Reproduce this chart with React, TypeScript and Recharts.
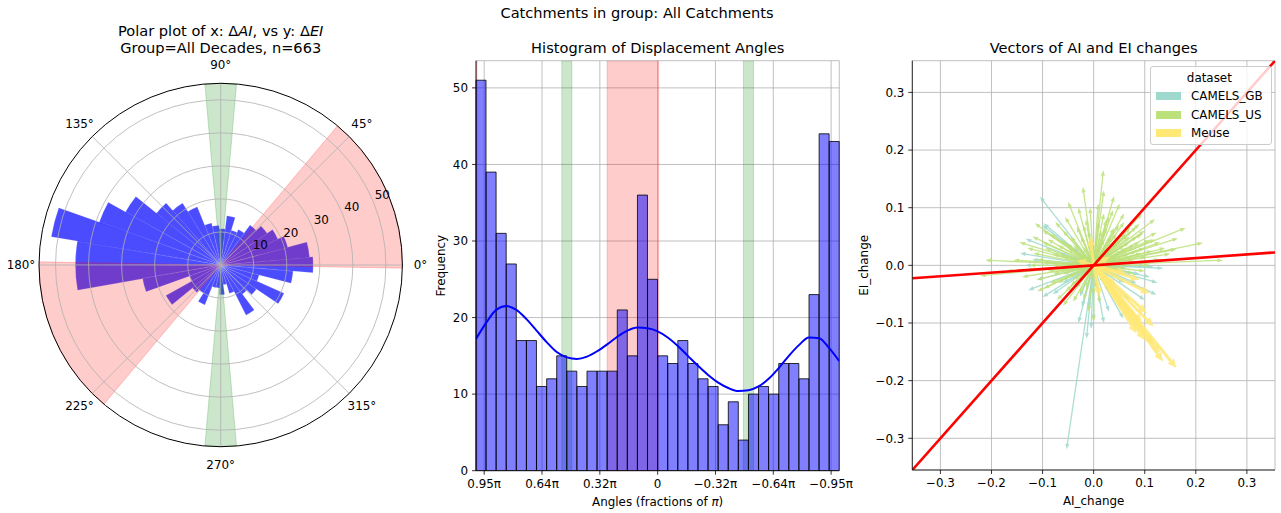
import React from 'react';
import {
  RadialBarChart,
  RadialBar,
  PolarAngleAxis,
  PolarRadiusAxis,
  PolarGrid,
  PieChart,
  Pie,
  Cell,
  ComposedChart,
  Bar,
  Line,
  Scatter,
  XAxis,
  YAxis,
  CartesianGrid,
  ReferenceArea,
  ReferenceLine,
  Legend,
} from 'recharts';

const FONT = '"DejaVu Sans", Verdana, sans-serif';
const PI = Math.PI;
const deg = (d: number) => (d * PI) / 180;

// ---- polar panel: 37 equal bins, counter-clockwise from 180 deg ----
const polarCounts = [
  44, 44, 24, 10, 19, 11, 10, 13, 7, 7, 9, 6, 9, 17, 11, 13, 21, 12, 22, 28, 27, 21, 19, 17, 15,
  12, 11, 15, 11, 12, 13, 19, 22, 25, 33, 39, 52,
];
const polarAngleTicks = [0, 45, 90, 135, 180, 225, 270, 315];
const polarRadiusTicks = [10, 20, 30, 40, 50];
const R_MAX = 54.6;

// shaded sectors, degrees
const pinkBands = [
  [-1, 50],
  [179, 230],
];
const greenBands = [
  [85, 95],
  [-95, -85],
];

// ---- histogram panel: 36 bins, left (+pi) to right (-pi) ----
const histCounts = [
  51, 39, 31, 27, 17, 17, 11, 12, 15, 13, 11, 13, 13, 13, 21, 15, 36, 25, 15, 14, 17, 14, 12, 11,
  6, 9, 4, 10, 11, 10, 14, 14, 12, 23, 44, 43,
];
// kde read at the 37 bin edges, same order
const kdeValues = [
  17.2, 19.3, 21.0, 21.5, 21.0, 19.8, 18.3, 16.8, 15.5, 14.8, 14.6, 14.9, 15.6, 16.5, 17.5, 18.3,
  18.7, 18.6, 18.2, 17.4, 16.3, 15.0, 13.7, 12.5, 11.5, 10.8, 10.4, 10.5, 11.0, 12.0, 13.4, 15.0,
  16.4, 17.4, 17.3, 16.0, 14.3,
];
const angleTicks = [3, 2, 1, 0, -1, -2, -3];
const freqTicks = [0, 10, 20, 30, 40, 50];

// ---- vector panel: arrow tips (AI_change, EI_change) from the origin ----
const gbVectors = [
  [-0.053, -0.319], [-0.105, 0.119], [-0.133, 0.046], [-0.128, -0.043], [-0.144, 0.021],
  [-0.134, 0.0], [-0.027, -0.054], [-0.014, -0.127], [-0.023, -0.072], [0.058, -0.092],
  [0.123, -0.051], [0.136, -0.005], [0.1, -0.06], [0.0, -0.095], [-0.101, 0.07],
  [0.084, -0.031], [-0.066, 0.021], [-0.111, -0.025], [0.117, -0.002], [-0.098, 0.073],
  [-0.005, -0.11], [0.03, -0.08], [-0.06, -0.03], [0.1, 0.0], [0.09, -0.015],
  [-0.03, -0.1], [0.045, -0.05], [-0.08, -0.05], [-0.1, -0.055], [0.06, -0.03],
  [0.11, -0.02], [0.125, -0.03], [-0.12, 0.01], [-0.04, 0.03], [0.02, -0.1],
  [-0.01, -0.075], [0.07, -0.06],
];
const usVectors = [
  [0.019, 0.165], [-0.021, 0.136], [0.009, 0.107], [0.051, 0.107], [-0.007, 0.1],
  [0.038, 0.096], [0.03, 0.085], [0.06, 0.075], [0.072, 0.066], [0.084, 0.067],
  [0.064, 0.055], [0.1, 0.06], [0.123, 0.057], [0.11, 0.044], [0.165, 0.047],
  [0.214, 0.039], [0.162, 0.028], [0.253, 0.009], [0.094, 0.021], [0.104, 0.015],
  [0.13, 0.01], [0.08, 0.035], [0.045, 0.04], [0.025, 0.079], [-0.015, 0.08],
  [-0.033, 0.067], [-0.056, 0.084], [-0.075, 0.075], [-0.1, 0.061], [-0.115, 0.073],
  [-0.09, 0.045], [-0.053, 0.038], [-0.02, 0.032], [-0.118, 0.021], [-0.157, 0.009],
  [-0.212, 0.009], [-0.222, -0.018], [-0.131, -0.008], [-0.079, -0.014], [-0.066, -0.008],
  [-0.1, 0.005], [-0.085, -0.031], [-0.111, -0.025], [-0.098, -0.04], [-0.072, -0.06],
  [-0.04, -0.063], [-0.04, -0.025], [-0.027, -0.049], [0.0, -0.098], [0.012, -0.066],
  [-0.015, -0.04], [0.077, -0.014], [0.05, -0.008], [0.03, 0.02], [0.07, 0.05],
  [0.09, 0.072], [-0.06, 0.06], [-0.03, 0.1], [0.015, 0.06], [0.055, 0.025],
  [-0.145, 0.04], [-0.17, -0.01], [0.14, 0.03], [0.18, 0.065], [0.12, 0.08],
  [0.02, -0.03], [-0.055, -0.045], [-0.045, 0.05], [0.04, 0.065], [0.06, 0.09],
  [-0.08, 0.02], [-0.13, 0.03], [0.11, 0.0], [0.085, 0.05], [0.07, 0.02],
  [0.09, 0.04], [0.06, 0.035], [0.1, 0.03], [0.115, 0.025], [0.12, 0.045],
  [0.075, 0.06], [0.05, 0.07], [0.035, 0.05], [0.02, 0.09], [-0.01, 0.06],
  [-0.025, 0.05], [-0.04, 0.035], [-0.065, 0.045], [-0.085, 0.055], [-0.095, 0.03],
  [-0.06, 0.015], [-0.11, 0.01], [-0.125, 0.0], [-0.09, -0.01], [-0.07, -0.03],
  [-0.05, -0.02], [-0.035, -0.04], [-0.02, -0.06], [-0.01, -0.08], [0.005, -0.04],
  [0.03, -0.045], [0.045, -0.02], [0.065, -0.005], [0.1, -0.01], [0.13, 0.04],
  [0.15, 0.02], [0.095, 0.09], [0.04, 0.12], [-0.05, 0.11], [-0.12, 0.05],
  [-0.14, -0.02], [-0.11, -0.045], [-0.06, -0.07], [0.02, 0.13], [0.03, 0.03],
  [0.05, 0.045], [0.065, 0.03], [0.04, 0.01], [0.02, 0.045], [0.01, 0.03],
  [-0.01, 0.02], [-0.03, 0.02], [-0.05, 0.03], [-0.045, 0.005], [-0.03, -0.01],
  [-0.02, -0.02], [0.015, -0.015], [0.035, -0.01], [0.055, 0.01], [0.08, 0.01],
  [0.07, 0.04], [0.045, 0.055], [0.025, 0.065], [-0.005, 0.045], [-0.02, 0.07],
  [-0.07, 0.035], [-0.08, 0.0], [-0.06, -0.015], [-0.045, -0.035], [0.0, -0.05],
  [0.01, 0.075], [0.085, 0.025], [0.095, 0.055], [-0.1, 0.04],
];
const meuseVectors = [
  [0.162, -0.178], [0.136, -0.167], [0.117, -0.138], [0.13, -0.152], [0.117, -0.106],
  [0.104, -0.083], [0.11, -0.049], [0.09, -0.025], [0.064, -0.014], [0.058, -0.066],
  [0.084, -0.118], [0.045, -0.037], [0.012, -0.054], [-0.007, 0.05], [-0.033, 0.009],
  [0.032, 0.015], [0.02, -0.02], [0.1, -0.13], [0.075, -0.09], [0.095, -0.1],
];
const changeTicks = [-0.3, -0.2, -0.1, 0, 0.1, 0.2, 0.3];
const CHANGE_LIM = 0.355;
const redSlopes = [1, 0.063];

const GB = '#9fd8cc';
const US = '#bce07a';
const MEUSE = '#ffe874';

const polarBins = polarCounts.map((count, i) => ({ bin: i, count }));
const polarAngleData = polarAngleTicks.map((angle) => ({ angle, zero: 0 }));
const histBins = histCounts.map((count, i) => ({ bin: i, count }));
const kdePoints = kdeValues.map((kde, i) => ({ angle: PI - (i * 2 * PI) / 36, kde }));

const bandList = [
  ...pinkBands.map(([a, b]) => ({ from: a, to: b, color: '#ff0000' })),
  ...greenBands.map(([a, b]) => ({ from: a, to: b, color: '#008000' })),
]
  .map((b) => (b.from < pinkBands[0][0] ? { ...b, from: b.from + 360, to: b.to + 360 } : b))
  .sort((p, q) => p.from - q.from);
const bandStart = bandList[0].from;
const bandSegments: { span: number; color: string }[] = [];
let cursor = bandStart;
for (const b of bandList) {
  if (b.from > cursor) bandSegments.push({ span: b.from - cursor, color: 'none' });
  bandSegments.push({ span: b.to - b.from, color: b.color });
  cursor = b.to;
}
if (cursor < bandStart + 360) bandSegments.push({ span: bandStart + 360 - cursor, color: 'none' });

const P_CX = 220.7;
const P_CY = 265;
const P_R = 181.7;
// a category angle axis puts its labels one band before the start angle
const LABEL_BAND = 360 / polarAngleTicks.length;

const tickStyle = { fill: '#000', fontSize: 11.9, fontFamily: FONT };
const axisStroke = { stroke: '#000', strokeWidth: 0.8 };

const piLabel = (v: number) =>
  v === 0 ? '0' : `${v < 0 ? '\u2212' : ''}${(Math.abs(v) / PI).toFixed(2)}π`;
const decLabel = (v: number) => `${v < 0 ? '\u2212' : ''}${Math.abs(v).toFixed(1)}`;

const AngleTick = (p: any) => (
  <text x={p.x} y={p.y} textAnchor="middle" dominantBaseline="central" {...tickStyle}>
    {`${p.payload.value}°`}
  </text>
);

const RadiusTick = (p: any) => (
  <text x={p.x + 1.5} y={p.y - 7} textAnchor="start" dominantBaseline="central" {...tickStyle}>
    {p.payload.value}
  </text>
);

const yLabel = (text: string, dx: number) => (props: any) => {
  const vb = props.viewBox;
  const x = vb.x + dx;
  const y = vb.y + vb.height / 2;
  return (
    <text x={x} y={y} transform={`rotate(-90, ${x}, ${y})`} textAnchor="middle" dominantBaseline="central" {...tickStyle}>
      {text}
    </text>
  );
};

const xLabel = (content: React.ReactNode, dy: number) => (props: any) => {
  const vb = props.viewBox;
  return (
    <text x={vb.x + vb.width / 2} y={vb.y + dy} textAnchor="middle" dominantBaseline="central" {...tickStyle}>
      {content}
    </text>
  );
};

// quiver-like arrow drawn between the two pixel ends of a reference segment
const arrowShape = (color: string, shaft: number, headW: number, headL: number) => (p: any) => {
  const { x1, y1, x2, y2 } = p;
  const dx = x2 - x1;
  const dy = y2 - y1;
  const len = Math.hypot(dx, dy);
  if (!len) return <g />;
  const ux = dx / len;
  const uy = dy / len;
  const nx = -uy;
  const ny = ux;
  const hl = Math.min(headL, len);
  const bx = x2 - ux * hl;
  const by = y2 - uy * hl;
  const s = shaft / 2;
  const h = headW / 2;
  const pts = [
    [x1 + nx * s, y1 + ny * s],
    [bx + nx * s, by + ny * s],
    [bx + nx * h, by + ny * h],
    [x2, y2],
    [bx - nx * h, by - ny * h],
    [bx - nx * s, by - ny * s],
    [x1 - nx * s, y1 - ny * s],
  ];
  return <polygon points={pts.map((q) => q.join(',')).join(' ')} fill={color} fillOpacity={0.85} />;
};

const renderLegend = (props: any) => (
  <div
    style={{
      border: '1px solid #cccccc',
      borderRadius: 3,
      background: 'rgba(255,255,255,0.8)',
      padding: '2px 8px 1px 5px',
      fontFamily: FONT,
      fontSize: 11.9,
      color: '#000',
    }}
  >
    <div style={{ textAlign: 'center', lineHeight: '18px', height: 18 }}>dataset</div>
    {(props.payload || []).map((entry: any) => (
      <div key={entry.value} style={{ display: 'flex', alignItems: 'center', height: 18.5 }}>
        <span style={{ width: 25, height: 8, background: entry.color, marginRight: 10 }} />
        <span>{entry.value}</span>
      </div>
    ))}
  </div>
);

const Title = ({ x, y, children, size = 14.6 }: any) => (
  <div
    style={{
      position: 'absolute',
      left: x - 300,
      top: y - size * 0.58,
      width: 600,
      textAlign: 'center',
      fontSize: size,
      lineHeight: `${size * 1.2}px`,
      whiteSpace: 'nowrap',
    }}
  >
    {children}
  </div>
);

const abs = (left: number): React.CSSProperties => ({ position: 'absolute', left, top: 0 });

function PolarPanel() {
  return (
    <>
      <div style={abs(0)}>
        <RadialBarChart
          width={441}
          height={513}
          data={polarBins}
          cx={P_CX}
          cy={P_CY}
          innerRadius={0}
          outerRadius={P_R}
          startAngle={-180}
          endAngle={180}
          layout="centric"
          barCategoryGap={0}
          margin={{ top: 0, right: 0, bottom: 0, left: 0 }}
        >
          <PolarAngleAxis type="category" dataKey="bin" tick={false} tickLine={false} axisLine={false} />
          <PolarRadiusAxis type="number" domain={[0, R_MAX]} allowDataOverflow tick={false} tickLine={false} axisLine={false} />
          <RadialBar
            dataKey="count"
            fill="#0000ff"
            fillOpacity={0.7}
            stroke="#ffffff"
            strokeOpacity={0.35}
            strokeWidth={0.5}
            isAnimationActive={false}
          />
        </RadialBarChart>
      </div>
      <div style={abs(0)}>
        <PieChart width={441} height={513} margin={{ top: 0, right: 0, bottom: 0, left: 0 }}>
          <Pie
            data={bandSegments}
            dataKey="span"
            cx={P_CX}
            cy={P_CY}
            innerRadius={0}
            outerRadius={P_R}
            startAngle={bandStart}
            endAngle={bandStart + 360}
            stroke="none"
            label={false}
            labelLine={false}
            isAnimationActive={false}
          >
            {bandSegments.map((s, i) => (
              <Cell
                key={`band-${i}`}
                fill={s.color === 'none' ? '#ffffff' : s.color}
                fillOpacity={s.color === 'none' ? 0 : 0.2}
                stroke={s.color === 'none' ? 'none' : s.color}
                strokeOpacity={0.2}
                strokeWidth={1}
              />
            ))}
          </Pie>
        </PieChart>
      </div>
      <div style={abs(0)}>
        <RadialBarChart
          width={441}
          height={513}
          data={polarAngleData}
          cx={P_CX}
          cy={P_CY}
          innerRadius={0}
          outerRadius={P_R}
          startAngle={LABEL_BAND}
          endAngle={LABEL_BAND + 360}
          layout="centric"
          barCategoryGap={0}
          margin={{ top: 0, right: 0, bottom: 0, left: 0 }}
        >
          <PolarGrid gridType="circle" polarAngles={polarAngleTicks} stroke="#b0b0b0" strokeWidth={0.8} />
          <PolarAngleAxis
            type="category"
            dataKey="angle"
            axisLineType="circle"
            axisLine={{ stroke: '#000', strokeWidth: 1 }}
            stroke="#000"
            tickLine={false}
            tickSize={18}
            tick={AngleTick}
          />
          <PolarRadiusAxis
            type="number"
            angle={22.5}
            domain={[0, R_MAX]}
            ticks={polarRadiusTicks as any}
            allowDataOverflow
            axisLine={false}
            tickLine={false}
            tick={RadiusTick}
          />
          <RadialBar dataKey="zero" fillOpacity={0} isAnimationActive={false} />
        </RadialBarChart>
      </div>
      <Title x={220.7} y={30.3}>
        Polar plot of x: Δ<i>AI</i>, vs y: Δ<i>EI</i>
      </Title>
      <Title x={220.7} y={47.2}>
        Group=All Decades, n=663
      </Title>
    </>
  );
}

function HistogramPanel() {
  const bands = [
    ...pinkBands.map((b) => ({ b, color: '#ff0000' })),
    ...greenBands.map((b) => ({ b, color: '#008000' })),
  ];
  return (
    <>
      <div style={abs(420)}>
        <ComposedChart
          width={440}
          height={513}
          data={histBins}
          margin={{ top: 60.7, right: 20.7, bottom: 0, left: 10 }}
          barCategoryGap={0}
          barGap={0}
        >
          <XAxis xAxisId="cat" dataKey="bin" type="category" hide height={0} />
          <XAxis
            xAxisId="num"
            dataKey="angle"
            type="number"
            domain={[-PI, PI]}
            reversed
            allowDataOverflow
            ticks={angleTicks}
            tickFormatter={piLabel}
            height={42.3}
            tickSize={4}
            tickMargin={5}
            axisLine={axisStroke}
            tickLine={axisStroke}
            tick={tickStyle}
            interval={0}
            label={xLabel(
              <>
                Angles (fractions of <tspan fontStyle="italic">π</tspan>)
              </>,
              31.5,
            )}
          />
          <XAxis xAxisId="top" orientation="top" type="number" domain={[0, 1]} height={0} tick={false} tickLine={false} axisLine={axisStroke} />
          <YAxis
            type="number"
            domain={[0, 53.55]}
            allowDataOverflow
            ticks={freqTicks}
            width={46}
            tickSize={4}
            tickMargin={4}
            axisLine={axisStroke}
            tickLine={axisStroke}
            tick={tickStyle}
            interval={0}
            label={yLabel('Frequency', 11)}
          />
          <YAxis yAxisId="right" orientation="right" type="number" domain={[0, 1]} width={0} tick={false} tickLine={false} axisLine={axisStroke} />
          <Bar
            xAxisId="cat"
            dataKey="count"
            fill="#0000ff"
            fillOpacity={0.5}
            stroke="#000"
            strokeWidth={0.8}
            isAnimationActive={false}
          />
          {bands.map(({ b, color }, i) => (
            <ReferenceArea
              key={`span-${i}`}
              xAxisId="num"
              x1={deg(b[0])}
              x2={deg(b[1])}
              fill={color}
              fillOpacity={0.2}
              stroke={color}
              strokeOpacity={0.2}
              ifOverflow="hidden"
            />
          ))}
          <CartesianGrid xAxisId="num" stroke="#b0b0b0" strokeWidth={0.8} />
          <Line
            xAxisId="num"
            data={kdePoints}
            dataKey="kde"
            type="monotone"
            stroke="#0000ff"
            strokeWidth={2}
            dot={false}
            isAnimationActive={false}
          />
        </ComposedChart>
      </div>
      <Title x={657.7} y={47.2}>
        Histogram of Displacement Angles
      </Title>
    </>
  );
}

function VectorPanel() {
  const sets = [
    { name: 'CAMELS_GB', color: GB, data: gbVectors, shaft: 1.3, headW: 4.2, headL: 5.5 },
    { name: 'CAMELS_US', color: US, data: usVectors, shaft: 1.3, headW: 4.2, headL: 5.5 },
    { name: 'Meuse', color: MEUSE, data: meuseVectors, shaft: 3, headW: 8, headL: 9 },
  ];
  return (
    <>
      <div style={abs(850)}>
        <ComposedChart width={431} height={513} margin={{ top: 60.7, right: 6, bottom: 0, left: 10 }}>
          <CartesianGrid stroke="#b0b0b0" strokeWidth={0.8} />
          <XAxis
            type="number"
            dataKey="x"
            domain={[-CHANGE_LIM, CHANGE_LIM]}
            allowDataOverflow
            ticks={changeTicks}
            tickFormatter={decLabel}
            height={43}
            tickSize={4}
            tickMargin={5}
            axisLine={axisStroke}
            tickLine={axisStroke}
            tick={tickStyle}
            interval={0}
            label={xLabel('AI_change', 31)}
          />
          <XAxis xAxisId="top" orientation="top" type="number" domain={[0, 1]} height={0} tick={false} tickLine={false} axisLine={axisStroke} />
          <YAxis
            type="number"
            dataKey="y"
            domain={[-CHANGE_LIM, CHANGE_LIM]}
            allowDataOverflow
            ticks={changeTicks}
            tickFormatter={decLabel}
            width={52.3}
            tickSize={4}
            tickMargin={4}
            axisLine={axisStroke}
            tickLine={axisStroke}
            tick={tickStyle}
            interval={0}
            label={yLabel('EI_change', 4)}
          />
          <YAxis yAxisId="right" orientation="right" type="number" domain={[0, 1]} width={0} tick={false} tickLine={false} axisLine={axisStroke} />
          {sets.map((s) => (
            <Scatter
              key={s.name}
              name={s.name}
              data={s.data.map(([x, y]) => ({ x, y }))}
              fill={s.color}
              legendType="rect"
              shape={() => <g />}
              isAnimationActive={false}
            />
          ))}
          {sets.map((s) =>
            s.data.map(([x, y], i) => (
              <ReferenceLine
                key={`${s.name}-${i}`}
                segment={[
                  { x: 0, y: 0 },
                  { x, y },
                ]}
                ifOverflow="visible"
                shape={arrowShape(s.color, s.shaft, s.headW, s.headL)}
              />
            )),
          )}
          {redSlopes.map((k) => (
            <ReferenceLine
              key={`red-${k}`}
              segment={[
                { x: -CHANGE_LIM, y: -CHANGE_LIM * k },
                { x: CHANGE_LIM, y: CHANGE_LIM * k },
              ]}
              stroke="#ff0000"
              strokeWidth={2.6}
              ifOverflow="hidden"
            />
          ))}
          <Legend
            layout="vertical"
            align="center"
            verticalAlign="middle"
            content={renderLegend}
            wrapperStyle={{ left: 300, top: 66, width: 'auto', height: 'auto' }}
          />
        </ComposedChart>
      </div>
      <Title x={1093.7} y={47.2}>
        Vectors of AI and EI changes
      </Title>
    </>
  );
}

export default function App() {
  return (
    <div
      style={{
        position: 'absolute',
        left: 0,
        top: 0,
        width: 1281,
        height: 513,
        background: '#ffffff',
        fontFamily: FONT,
        color: '#000',
        overflow: 'hidden',
      }}
    >
      <PolarPanel />
      <HistogramPanel />
      <VectorPanel />
      <Title x={637} y={12.3}>
        Catchments in group: All Catchments
      </Title>
    </div>
  );
}
